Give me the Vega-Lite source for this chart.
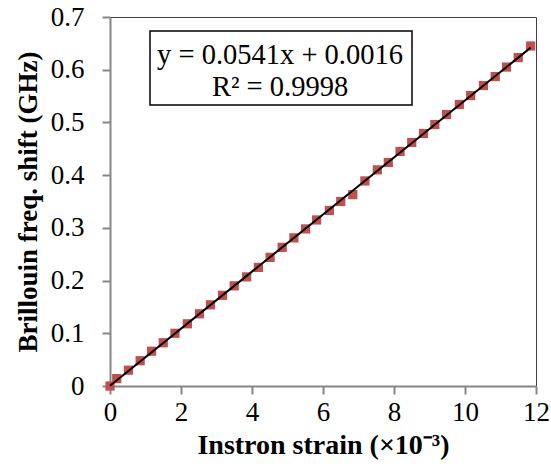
{
  "$schema": "https://vega.github.io/schema/vega-lite/v6.json",
  "width": 426,
  "height": 369,
  "autosize": {"type": "none"},
  "padding": {"left": 110, "top": 17, "right": 15, "bottom": 86},
  "background": "white",
  "config": {
    "view": {"stroke": "#404040", "strokeWidth": 1},
    "font": "Liberation Serif",
    "style": {
      "guide-label": {"font": "Liberation Serif"},
      "guide-title": {"font": "Liberation Serif"}
    }
  },
  "datasets": {
    "points": [
      {"strain": 0, "shift": 0.000},
      {"strain": 0.19, "shift": 0.014},
      {"strain": 0.52, "shift": 0.030},
      {"strain": 0.85, "shift": 0.048},
      {"strain": 1.17, "shift": 0.066},
      {"strain": 1.50, "shift": 0.082},
      {"strain": 1.83, "shift": 0.100},
      {"strain": 2.18, "shift": 0.118},
      {"strain": 2.52, "shift": 0.137},
      {"strain": 2.83, "shift": 0.154},
      {"strain": 3.17, "shift": 0.172},
      {"strain": 3.50, "shift": 0.190},
      {"strain": 3.85, "shift": 0.207},
      {"strain": 4.18, "shift": 0.225},
      {"strain": 4.51, "shift": 0.244},
      {"strain": 4.85, "shift": 0.263},
      {"strain": 5.18, "shift": 0.281},
      {"strain": 5.51, "shift": 0.298},
      {"strain": 5.82, "shift": 0.315},
      {"strain": 6.18, "shift": 0.333},
      {"strain": 6.50, "shift": 0.350},
      {"strain": 6.84, "shift": 0.363},
      {"strain": 7.18, "shift": 0.389},
      {"strain": 7.53, "shift": 0.410},
      {"strain": 7.84, "shift": 0.424},
      {"strain": 8.17, "shift": 0.445},
      {"strain": 8.50, "shift": 0.462},
      {"strain": 8.83, "shift": 0.479},
      {"strain": 9.15, "shift": 0.496},
      {"strain": 9.48, "shift": 0.515},
      {"strain": 9.84, "shift": 0.534},
      {"strain": 10.16, "shift": 0.551},
      {"strain": 10.52, "shift": 0.570},
      {"strain": 10.85, "shift": 0.587},
      {"strain": 11.17, "shift": 0.605},
      {"strain": 11.50, "shift": 0.623},
      {"strain": 11.85, "shift": 0.645}
    ],
    "note": [
      {"eq": "y = 0.0541x + 0.0016", "r2": "R² = 0.9998"}
    ]
  },
  "layer": [
    {
      "data": {"name": "points"},
      "mark": {"type": "point", "shape": "square", "filled": true, "size": 85, "color": "#C0504D", "opacity": 1},
      "encoding": {
        "x": {
          "field": "strain", "type": "quantitative",
          "scale": {"domain": [0, 12], "nice": false, "zero": false},
          "axis": {
            "values": [0, 2, 4, 6, 8, 10, 12], "format": "d",
            "title": "Instron strain (×10⁻³)",
            "titleFont": "Liberation Serif", "labelFont": "Liberation Serif",
            "titleFontSize": 28, "titleFontWeight": "bold", "titleColor": "black",
            "titlePadding": 6,
            "labelFontSize": 27, "labelColor": "black", "labelPadding": 5,
            "domainColor": "#868686", "domainWidth": 2, "tickColor": "#868686", "tickWidth": 2, "tickSize": 8,
            "grid": false, "labelFlush": false, "labelOverlap": false
          }
        },
        "y": {
          "field": "shift", "type": "quantitative",
          "scale": {"domain": [0, 0.7], "nice": false},
          "axis": {
            "values": [0, 0.1, 0.2, 0.3, 0.4, 0.5, 0.6, 0.7], "format": ".1~f",
            "title": "Brillouin freq. shift (GHz)",
            "titleFont": "Liberation Serif", "labelFont": "Liberation Serif",
            "titleFontSize": 27, "titleFontWeight": "bold", "titleColor": "black",
            "titlePadding": 8,
            "labelFontSize": 27, "labelColor": "black", "labelPadding": 18,
            "domainColor": "#868686", "domainWidth": 2, "tickColor": "#868686", "tickWidth": 2, "tickSize": 8,
            "grid": false, "labelFlush": false, "labelOverlap": false
          }
        }
      }
    },
    {
      "data": {"name": "points"},
      "transform": [{"regression": "shift", "on": "strain", "method": "linear"}],
      "mark": {"type": "line", "color": "black", "strokeWidth": 2},
      "encoding": {
        "x": {"field": "strain", "type": "quantitative"},
        "y": {"field": "shift", "type": "quantitative"}
      }
    },
    {
      "data": {"name": "note"},
      "mark": {"type": "rect", "fill": "white", "stroke": "black", "strokeWidth": 1.5},
      "encoding": {
        "x": {"datum": 1.127}, "x2": {"datum": 8.507},
        "y": {"datum": 0.6736}, "y2": {"datum": 0.533}
      }
    },
    {
      "data": {"name": "note"},
      "mark": {"type": "text", "font": "Liberation Serif", "fontSize": 28.5, "color": "black", "align": "center", "baseline": "middle"},
      "encoding": {
        "x": {"datum": 4.79},
        "y": {"datum": 0.628},
        "text": {"field": "eq"}
      }
    },
    {
      "data": {"name": "note"},
      "mark": {"type": "text", "font": "Liberation Serif", "fontSize": 28.5, "color": "black", "align": "center", "baseline": "middle"},
      "encoding": {
        "x": {"datum": 4.79},
        "y": {"datum": 0.568},
        "text": {"field": "r2"}
      }
    }
  ]
}
